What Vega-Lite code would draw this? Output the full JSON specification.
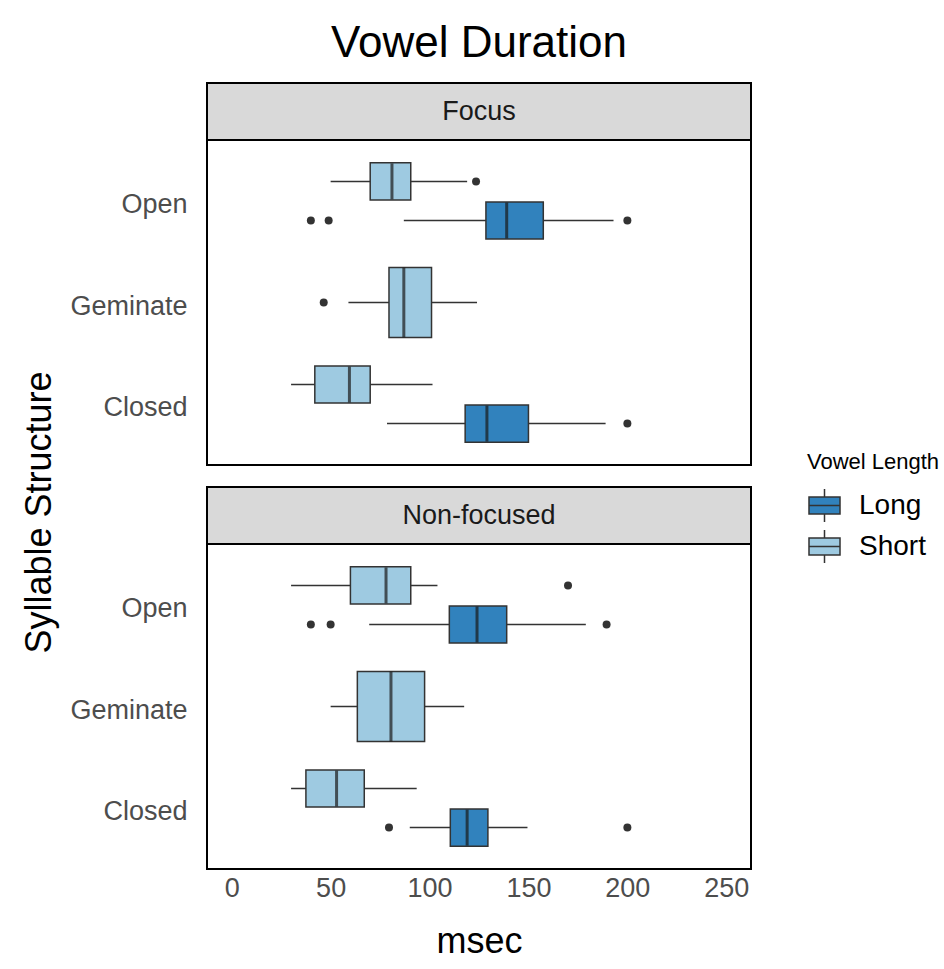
{
  "$schema": "https://vega.github.io/schema/vega-lite/v6.json",
  "padding": {"left": 20, "top": 21, "right": 0, "bottom": 0},
  "background": "white",
  "bounds": "flush",
  "datasets": {
    "boxes": [
      {"focus": "Focus", "syl": "Open", "len": "Short", "lo": 50, "q1": 70, "med": 81, "q3": 90.5, "hi": 119},
      {"focus": "Focus", "syl": "Open", "len": "Long", "lo": 87, "q1": 128.5, "med": 139, "q3": 157.5, "hi": 193},
      {"focus": "Focus", "syl": "Geminate", "len": "Short", "lo": 59, "q1": 79.5, "med": 87, "q3": 101, "hi": 124},
      {"focus": "Focus", "syl": "Closed", "len": "Short", "lo": 30, "q1": 42, "med": 59.5, "q3": 70, "hi": 101.5},
      {"focus": "Focus", "syl": "Closed", "len": "Long", "lo": 78.5, "q1": 118, "med": 129, "q3": 150, "hi": 189},
      {"focus": "Non-focused", "syl": "Open", "len": "Short", "lo": 30, "q1": 60, "med": 78, "q3": 90.5, "hi": 104},
      {"focus": "Non-focused", "syl": "Open", "len": "Long", "lo": 69.5, "q1": 110, "med": 124, "q3": 139, "hi": 179},
      {"focus": "Non-focused", "syl": "Geminate", "len": "Short", "lo": 50, "q1": 63.5, "med": 80.5, "q3": 97.5, "hi": 117.5},
      {"focus": "Non-focused", "syl": "Closed", "len": "Short", "lo": 30, "q1": 37.5, "med": 53, "q3": 67, "hi": 93.5},
      {"focus": "Non-focused", "syl": "Closed", "len": "Long", "lo": 90, "q1": 110.5, "med": 119, "q3": 129.5, "hi": 149.5}
    ],
    "outliers": [
      {"focus": "Focus", "syl": "Open", "len": "Short", "value": 123.5},
      {"focus": "Focus", "syl": "Open", "len": "Long", "value": 40},
      {"focus": "Focus", "syl": "Open", "len": "Long", "value": 49},
      {"focus": "Focus", "syl": "Open", "len": "Long", "value": 200},
      {"focus": "Focus", "syl": "Geminate", "len": "Short", "value": 46.5},
      {"focus": "Focus", "syl": "Closed", "len": "Long", "value": 200},
      {"focus": "Non-focused", "syl": "Open", "len": "Short", "value": 170},
      {"focus": "Non-focused", "syl": "Open", "len": "Long", "value": 40},
      {"focus": "Non-focused", "syl": "Open", "len": "Long", "value": 50},
      {"focus": "Non-focused", "syl": "Open", "len": "Long", "value": 189.5},
      {"focus": "Non-focused", "syl": "Closed", "len": "Long", "value": 79.5},
      {"focus": "Non-focused", "syl": "Closed", "len": "Long", "value": 200}
    ],
    "strips": [
      {"label": "Focus"},
      {"label": "Non-focused"}
    ]
  },
  "resolve": {"scale": {"color": "shared", "x": "shared"}, "legend": {"color": "shared"}},
  "spacing": 0,
  "vconcat": [
    {
      "width": 544, "height": 57,
      "title": {"text": "Vowel Duration", "fontSize": 44, "fontWeight": "normal", "color": "black", "anchor": "middle", "offset": 17},
      "view": {"fill": "#d9d9d9", "stroke": "black", "strokeWidth": 2},
      "data": {"name": "strips"},
      "transform": [{"filter": "datum.label == 'Focus'"}],
      "mark": {"type": "text", "fontSize": 27, "color": "#1a1a1a"},
      "encoding": {"text": {"field": "label"}}
    },
    {
      "width": 544, "height": 325,
      "view": {"stroke": "black", "strokeWidth": 2},
      "encoding": {
        "y": {"field": "syl", "type": "nominal",
          "scale": {"domain": ["Open", "Geminate", "Closed"], "paddingInner": 0.25, "paddingOuter": 0.225},
          "axis": {"title": "Syllable Structure", "titleFontSize": 36, "titleFontWeight": "normal", "titleColor": "black", "titleY": 372, "titleX": -168, "titleBaseline": "middle", "titleAngle": 270, "titleAlign": "center", "labelFontSize": 27, "labelColor": "#4d4d4d", "labelOffset": 4, "ticks": false, "domain": false, "labelPadding": 20, "grid": false}}
      },
      "layer": [
        {
          "data": {"name": "boxes"},
          "transform": [{"filter": "datum.focus == 'Focus' && datum.syl != 'Geminate'"}],
          "mark": {"type": "rule", "color": "#333333", "strokeWidth": 1.5},
          "encoding": {
            "x": {"field": "lo", "type": "quantitative", "scale": {"domain": [-12.5, 262.5], "nice": false, "zero": false}, "axis": null},
            "x2": {"field": "hi"},
            "yOffset": {"field": "len", "scale": {"domain": ["Short", "Long"], "paddingInner": 0.05, "paddingOuter": 0}}
          }
        },
        {
          "data": {"name": "boxes"},
          "transform": [{"filter": "datum.focus == 'Focus' && datum.syl == 'Geminate'"}],
          "mark": {"type": "rule", "color": "#333333", "strokeWidth": 1.5},
          "encoding": {
            "x": {"field": "lo", "type": "quantitative", "axis": null},
            "x2": {"field": "hi"}
          }
        },
        {
          "data": {"name": "boxes"},
          "transform": [{"filter": "datum.focus == 'Focus' && datum.syl != 'Geminate'"}],
          "mark": {"type": "bar", "stroke": "#333333", "strokeWidth": 1.5},
          "encoding": {
            "x": {"field": "q1", "type": "quantitative", "axis": null},
            "x2": {"field": "q3"},
            "yOffset": {"field": "len"},
            "color": {"field": "len", "type": "nominal", "scale": {"domain": ["Long", "Short"], "range": ["#3182bd", "#9ecae1"]}}
          }
        },
        {
          "data": {"name": "boxes"},
          "transform": [{"filter": "datum.focus == 'Focus' && datum.syl == 'Geminate'"}],
          "mark": {"type": "bar", "stroke": "#333333", "strokeWidth": 1.5, "height": {"band": 0.92}},
          "encoding": {
            "x": {"field": "q1", "type": "quantitative", "axis": null},
            "x2": {"field": "q3"},
            "color": {"field": "len", "type": "nominal"}
          }
        },
        {
          "data": {"name": "boxes"},
          "transform": [{"filter": "datum.focus == 'Focus' && datum.syl != 'Geminate'"}],
          "mark": {"type": "tick", "color": "#1a1a1a", "thickness": 3, "size": 36, "orient": "vertical"},
          "encoding": {
            "x": {"field": "med", "type": "quantitative", "axis": null},
            "yOffset": {"field": "len"}
          }
        },
        {
          "data": {"name": "boxes"},
          "transform": [{"filter": "datum.focus == 'Focus' && datum.syl == 'Geminate'"}],
          "mark": {"type": "tick", "color": "#1a1a1a", "thickness": 3, "size": 70, "orient": "vertical"},
          "encoding": {
            "x": {"field": "med", "type": "quantitative", "axis": null}
          }
        },
        {
          "data": {"name": "outliers"},
          "transform": [{"filter": "datum.focus == 'Focus' && datum.syl != 'Geminate'"}],
          "mark": {"type": "point", "filled": true, "color": "#333333", "size": 64, "opacity": 1},
          "encoding": {
            "x": {"field": "value", "type": "quantitative", "axis": null},
            "yOffset": {"field": "len"}
          }
        },
        {
          "data": {"name": "outliers"},
          "transform": [{"filter": "datum.focus == 'Focus' && datum.syl == 'Geminate'"}],
          "mark": {"type": "point", "filled": true, "color": "#333333", "size": 64, "opacity": 1},
          "encoding": {
            "x": {"field": "value", "type": "quantitative", "axis": null}
          }
        }
      ]
    },
    {
      "width": 544, "height": 22,
      "view": {"stroke": null},
      "data": {"values": [{"t": ""}]},
      "mark": {"type": "text"},
      "encoding": {"text": {"field": "t"}}
    },
    {
      "width": 544, "height": 57,
      "view": {"fill": "#d9d9d9", "stroke": "black", "strokeWidth": 2},
      "data": {"name": "strips"},
      "transform": [{"filter": "datum.label == 'Non-focused'"}],
      "mark": {"type": "text", "fontSize": 27, "color": "#1a1a1a"},
      "encoding": {"text": {"field": "label"}}
    },
    {
      "width": 544, "height": 325,
      "view": {"stroke": "black", "strokeWidth": 2},
      "encoding": {
        "y": {"field": "syl", "type": "nominal",
          "scale": {"domain": ["Open", "Geminate", "Closed"], "paddingInner": 0.25, "paddingOuter": 0.225},
          "axis": {"title": null, "labelFontSize": 27, "labelColor": "#4d4d4d", "labelOffset": 4, "ticks": false, "domain": false, "labelPadding": 20, "grid": false}}
      },
      "layer": [
        {
          "data": {"name": "boxes"},
          "transform": [{"filter": "datum.focus == 'Non-focused' && datum.syl != 'Geminate'"}],
          "mark": {"type": "rule", "color": "#333333", "strokeWidth": 1.5},
          "encoding": {
            "x": {"field": "lo", "type": "quantitative", "scale": {"domain": [-12.5, 262.5], "nice": false, "zero": false},
              "axis": {"title": "msec", "titleFontSize": 36, "titleFontWeight": "normal", "titleColor": "black", "labelFontSize": 27, "labelColor": "#4d4d4d", "values": [0, 50, 100, 150, 200, 250], "ticks": false, "domain": false, "grid": false, "labelPadding": 6, "titlePadding": 23}},
            "x2": {"field": "hi"},
            "yOffset": {"field": "len", "scale": {"domain": ["Short", "Long"], "paddingInner": 0.05, "paddingOuter": 0}}
          }
        },
        {
          "data": {"name": "boxes"},
          "transform": [{"filter": "datum.focus == 'Non-focused' && datum.syl == 'Geminate'"}],
          "mark": {"type": "rule", "color": "#333333", "strokeWidth": 1.5},
          "encoding": {
            "x": {"field": "lo", "type": "quantitative"},
            "x2": {"field": "hi"}
          }
        },
        {
          "data": {"name": "boxes"},
          "transform": [{"filter": "datum.focus == 'Non-focused' && datum.syl != 'Geminate'"}],
          "mark": {"type": "bar", "stroke": "#333333", "strokeWidth": 1.5},
          "encoding": {
            "x": {"field": "q1", "type": "quantitative"},
            "x2": {"field": "q3"},
            "yOffset": {"field": "len"},
            "color": {"field": "len", "type": "nominal", "scale": {"domain": ["Long", "Short"], "range": ["#3182bd", "#9ecae1"]},
              "legend": {"title": "Vowel Length", "orient": "none", "legendX": 600, "legendY": 369}}
          }
        },
        {
          "data": {"name": "boxes"},
          "transform": [{"filter": "datum.focus == 'Non-focused' && datum.syl == 'Geminate'"}],
          "mark": {"type": "bar", "stroke": "#333333", "strokeWidth": 1.5, "height": {"band": 0.92}},
          "encoding": {
            "x": {"field": "q1", "type": "quantitative"},
            "x2": {"field": "q3"},
            "color": {"field": "len", "type": "nominal"}
          }
        },
        {
          "data": {"name": "boxes"},
          "transform": [{"filter": "datum.focus == 'Non-focused' && datum.syl != 'Geminate'"}],
          "mark": {"type": "tick", "color": "#1a1a1a", "thickness": 3, "size": 36, "orient": "vertical"},
          "encoding": {
            "x": {"field": "med", "type": "quantitative"},
            "yOffset": {"field": "len"}
          }
        },
        {
          "data": {"name": "boxes"},
          "transform": [{"filter": "datum.focus == 'Non-focused' && datum.syl == 'Geminate'"}],
          "mark": {"type": "tick", "color": "#1a1a1a", "thickness": 3, "size": 70, "orient": "vertical"},
          "encoding": {
            "x": {"field": "med", "type": "quantitative"}
          }
        },
        {
          "data": {"name": "outliers"},
          "transform": [{"filter": "datum.focus == 'Non-focused' && datum.syl != 'Geminate'"}],
          "mark": {"type": "point", "filled": true, "color": "#333333", "size": 64, "opacity": 1},
          "encoding": {
            "x": {"field": "value", "type": "quantitative"},
            "yOffset": {"field": "len"}
          }
        }
      ]
    }
  ],
  "config": {
    "font": "Liberation Sans",
    "legend": {
      "titleFontSize": 22, "titleFontWeight": "normal", "titleColor": "black",
      "labelFontSize": 28, "labelColor": "black", "labelOffset": 17,
      "symbolType": "M-0.94,-0.52H0.94V0.52H-0.94Z M-0.94,0H0.94 M0,-0.52V-1 M0,0.52V1",
      "symbolSize": 1089, "symbolStrokeColor": "#333333", "symbolStrokeWidth": 1.5, "symbolOpacity": 1,
      "rowPadding": 2, "titlePadding": 14
    }
  }
}
